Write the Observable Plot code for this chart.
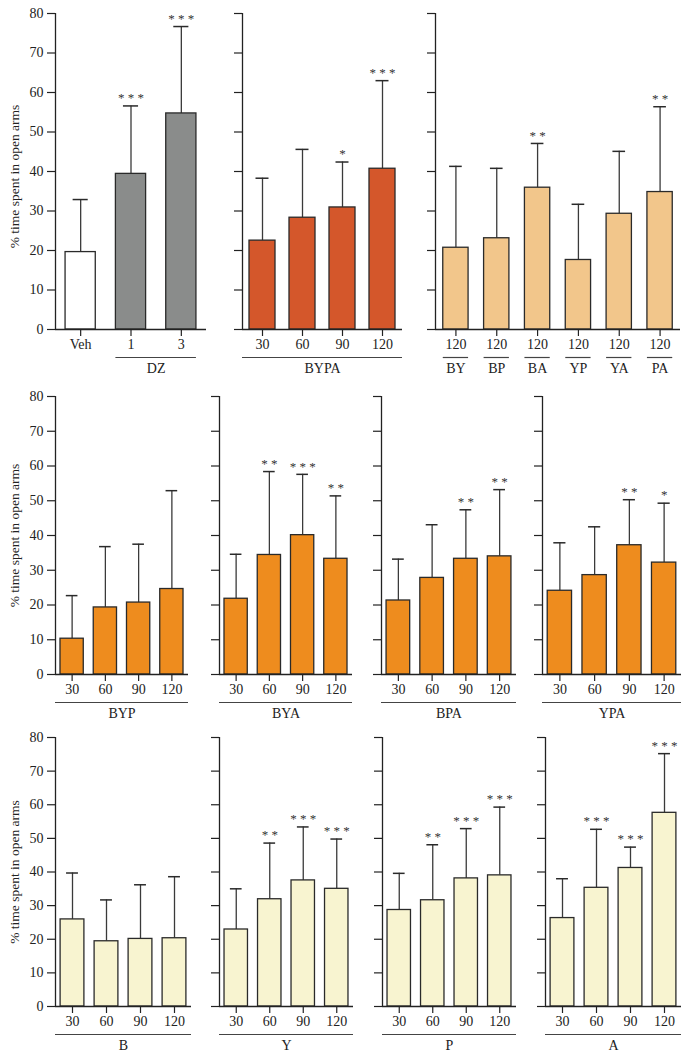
<!DOCTYPE html>
<html><head><meta charset="utf-8">
<script src="https://cdn.jsdelivr.net/npm/d3@7"></script>
<script src="https://cdn.jsdelivr.net/npm/@observablehq/plot@0.6"></script>
<style>
body{margin:0;background:#fff;}
#chart{position:relative;width:689px;height:1056px;overflow:hidden;background:#fff;}
.panel{position:absolute;}
</style></head><body><div id="chart"></div>
<script>
// ---------- data ----------
const yTicks = [0, 10, 20, 30, 40, 50, 60, 70, 80];
const yTitle = "% time spent in open arms";
const doses = ["30", "60", "90", "120"];

// Row 1
const dzTicks = ["Veh", "1", "3"];
const dzMeans = [19.6, 39.4, 54.7];
const dzUpper = [32.9, 56.6, 76.7];
const dzSig = ["", "***", "***"];

const bypaMeans = [22.5, 28.3, 30.9, 40.7];
const bypaUpper = [38.3, 45.6, 42.4, 63.0];
const bypaSig = ["", "", "*", "***"];

const pairCombos = ["BY", "BP", "BA", "YP", "YA", "PA"];
const pairTicks = ["120", "120", "120", "120", "120", "120"];
const pairMeans = [20.7, 23.1, 35.9, 17.6, 29.3, 34.8];
const pairUpper = [41.3, 40.8, 47.1, 31.7, 45.1, 56.4];
const pairSig = ["", "", "**", "", "", "**"];

// Row 2
const bypMeans = [10.3, 19.3, 20.7, 24.6];
const bypUpper = [22.7, 36.8, 37.5, 52.9];
const bypSig = ["", "", "", ""];

const byaMeans = [21.8, 34.4, 40.1, 33.3];
const byaUpper = [34.6, 58.4, 57.6, 51.4];
const byaSig = ["", "**", "***", "**"];

const bpaMeans = [21.3, 27.8, 33.3, 34.0];
const bpaUpper = [33.2, 43.1, 47.4, 53.2];
const bpaSig = ["", "", "**", "**"];

const ypaMeans = [24.1, 28.6, 37.2, 32.2];
const ypaUpper = [37.9, 42.5, 50.3, 49.3];
const ypaSig = ["", "", "**", "*"];

// Row 3
const bMeans = [25.9, 19.4, 20.1, 20.3];
const bUpper = [39.7, 31.7, 36.2, 38.6];
const bSig = ["", "", "", ""];

const yMeans = [22.9, 31.9, 37.5, 35.0];
const yUpper = [35.0, 48.6, 53.4, 49.8];
const ySig = ["", "**", "***", "***"];

const pMeans = [28.7, 31.6, 38.1, 39.0];
const pUpper = [39.6, 48.1, 52.9, 59.3];
const pSig = ["", "**", "***", "***"];

const aMeans = [26.3, 35.3, 41.2, 57.6];
const aUpper = [38.0, 52.7, 47.4, 75.2];
const aSig = ["", "***", "***", "***"];

// ---------- styles / layout ----------
const C = {
  white: "#ffffff", gray: "#8a8c8b", red: "#d4572b", sand: "#f2c68b",
  orange: "#ee8c1e", cream: "#f8f4d0"
};
const rows = [
  {y80: 13, y0: 329},
  {y80: 396, y0: 674},
  {y80: 737, y0: 1006}
];

const full = (label) => [{label, full: true}];

const panels = [
  {row: 0, box: [55, 206], pad: 0.2, first: true, ticks: dzTicks, means: dzMeans, upper: dzUpper, sig: dzSig,
   fills: [C.white, C.gray, C.gray], groups: [{label: "DZ", from: 1, to: 2}]},
  {row: 0, box: [242, 402], pad: 0.175, ticks: doses, means: bypaMeans, upper: bypaUpper, sig: bypaSig,
   fills: C.red, groups: full("BYPA")},
  {row: 0, box: [435, 680], pad: 0.19, ticks: pairTicks, means: pairMeans, upper: pairUpper, sig: pairSig,
   fills: C.sand, groups: pairCombos.map((label, i) => ({label, from: i, to: i}))},

  {row: 1, box: [55, 188], pad: 0.15, first: true, ticks: doses, means: bypMeans, upper: bypUpper, sig: bypSig, fills: C.orange, groups: full("BYP")},
  {row: 1, box: [219, 352], pad: 0.15, ticks: doses, means: byaMeans, upper: byaUpper, sig: byaSig, fills: C.orange, groups: full("BYA")},
  {row: 1, box: [381, 516], pad: 0.15, ticks: doses, means: bpaMeans, upper: bpaUpper, sig: bpaSig, fills: C.orange, groups: full("BPA")},
  {row: 1, box: [542, 681], pad: 0.15, ticks: doses, means: ypaMeans, upper: ypaUpper, sig: ypaSig, fills: C.orange, groups: full("YPA")},

  {row: 2, box: [55, 191], pad: 0.15, first: true, ticks: doses, means: bMeans, upper: bUpper, sig: bSig, fills: C.cream, groups: full("B")},
  {row: 2, box: [219, 353], pad: 0.15, ticks: doses, means: yMeans, upper: yUpper, sig: ySig, fills: C.cream, groups: full("Y")},
  {row: 2, box: [382, 516], pad: 0.15, ticks: doses, means: pMeans, upper: pUpper, sig: pSig, fills: C.cream, groups: full("P")},
  {row: 2, box: [545, 681], pad: 0.15, ticks: doses, means: aMeans, upper: aUpper, sig: aSig, fills: C.cream, groups: full("A")}
];

const FONT = "'Liberation Serif', 'Times New Roman', serif";
const AX = "#222";
const chart = document.getElementById("chart");

for (const p of panels) {
  const r = rows[p.row];
  const n = p.ticks.length;
  const ml = p.first ? 55 : 14, mr = 8, mt = 12, mb = 56;
  const w = p.box[1] - p.box[0], h = r.y0 - r.y80;
  const data = p.ticks.map((t, i) => ({i, tick: t, mean: p.means[i], upper: p.upper[i], sig: p.sig[i],
    fill: Array.isArray(p.fills) ? p.fills[i] : p.fills}));
  const cap = (1 - 2 * p.pad) / 4;
  const gx1 = g => g.full ? 0 : g.from + p.pad;
  const gx2 = g => g.full ? n : g.to + 1 - p.pad;

  const svg = Plot.plot({
    width: ml + w + mr, height: mt + h + mb,
    marginLeft: ml, marginRight: mr, marginTop: mt, marginBottom: mb,
    x: {type: "linear", domain: [0, n], range: [ml, ml + w]},
    y: {domain: [0, 80]},
    style: {fontFamily: FONT, fontSize: "14px", color: AX, background: "transparent", overflow: "visible"},
    marks: [
      Plot.ruleX(data, {x: d => d.i + 0.5, y1: "mean", y2: "upper", stroke: "#3a3a3a", strokeWidth: 1.3}),
      Plot.ruleY(data, {y: "upper", x1: d => d.i + 0.5 - cap, x2: d => d.i + 0.5 + cap, stroke: "#2a2a2a", strokeWidth: 1.5}),
      Plot.rectY(data, {x1: d => d.i + p.pad, x2: d => d.i + 1 - p.pad, y1: 0, y2: "mean", fill: "fill", stroke: "#2a2a2a", strokeWidth: 1.3}),
      Plot.text(data.filter(d => d.sig), {x: d => d.i + 0.5, y: "upper", text: d => d.sig.split("").join(" "), dy: -8, fontSize: 13, fill: "#333"}),
      Plot.axisY(yTicks, {tickSize: 8, tickPadding: 4, tickFormat: p.first ? (d => String(d)) : (() => ""), label: null, strokeWidth: 1.2, fontSize: 14}),
      Plot.ruleX([0], {y1: 0, y2: 80, stroke: AX, strokeWidth: 1.3}),
      Plot.ruleY([0], {x1: 0, x2: n, stroke: AX, strokeWidth: 1.3}),
      Plot.axisX(data.map(d => d.i + 0.5), {tickSize: 7, tickPadding: 3, tickFormat: v => p.ticks[Math.floor(v)], label: null, strokeWidth: 1.2, fontSize: 14}),
      Plot.ruleY(p.groups, {y: 0, x1: gx1, x2: gx2, dy: 28, stroke: "#444", strokeWidth: 1.2}),
      Plot.text(p.groups, {x: g => (gx1(g) + gx2(g)) / 2, y: 0, text: "label", dy: 39, fontSize: 14, fill: AX}),
      p.first ? Plot.text([yTitle], {text: d => d, frameAnchor: "left", rotate: -90, dx: -41, dy: p.row === 0 ? 5 : 0, textAnchor: "middle", lineAnchor: "middle", fontSize: 13.5, fill: AX}) : null
    ]
  });
  const div = document.createElement("div");
  div.className = "panel";
  div.style.left = (p.box[0] - ml) + "px";
  div.style.top = (r.y80 - mt) + "px";
  div.appendChild(svg);
  chart.appendChild(div);
}
</script>
</body></html>
